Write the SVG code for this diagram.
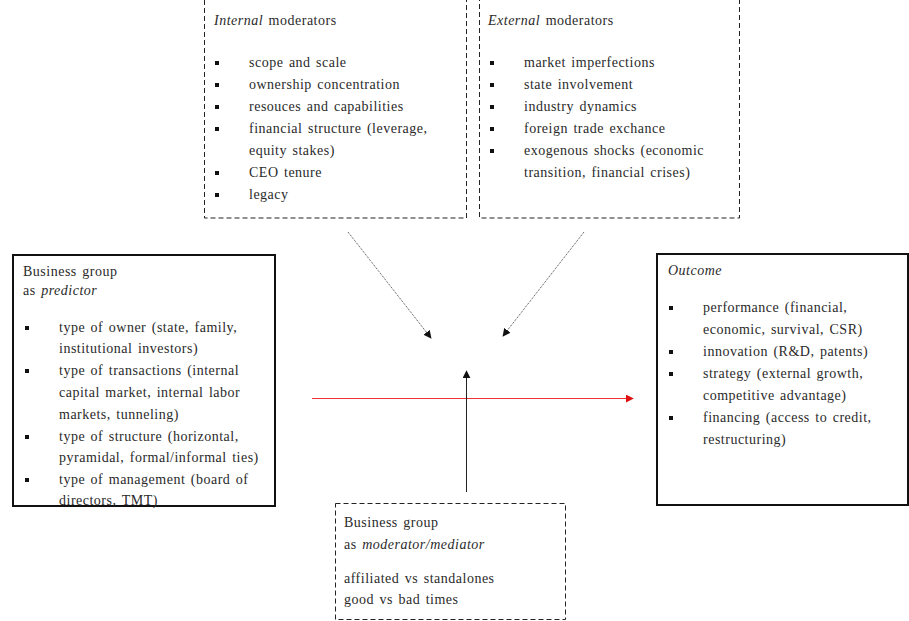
<svg xmlns="http://www.w3.org/2000/svg" width="909" height="621" viewBox="0 0 909 621">
<defs>
<style>
.t{font-family:'Liberation Serif','Times New Roman',serif;font-size:14px;fill:#2a2a2a;letter-spacing:0.5px;word-spacing:1.5px}
.it{font-style:italic}
.dash{fill:#fff;stroke:#222;stroke-width:1;stroke-dasharray:5,3}
.solid{fill:#fff;stroke:#111;stroke-width:2}
.b{fill:#111}
</style>
<marker id="ah" viewBox="0 0 10 10" refX="9" refY="5" markerWidth="8" markerHeight="8" markerUnits="userSpaceOnUse" orient="auto"><path d="M0,0L10,5L0,10z" fill="#111"/></marker>
<marker id="ahr" viewBox="0 0 10 10" refX="9" refY="5" markerWidth="8" markerHeight="8" markerUnits="userSpaceOnUse" orient="auto"><path d="M0,0L10,5L0,10z" fill="#d11"/></marker>
</defs>
<g class="t" font-family="Liberation Serif, Times New Roman, serif">
<g id="internal">
<rect class="dash" x="204.5" y="-5" width="262" height="223"/>
<text x="214" y="25"><tspan class="it">Internal</tspan> moderators</text>
<rect class="b" x="215" y="61" width="4" height="4"/><text x="249" y="67">scope and scale</text>
<rect class="b" x="215" y="83" width="4" height="4"/><text x="249" y="89">ownership concentration</text>
<rect class="b" x="215" y="105" width="4" height="4"/><text x="249" y="111">resouces and capabilities</text>
<rect class="b" x="215" y="127" width="4" height="4"/><text x="249" y="133">financial structure (leverage,</text>
<text x="249" y="155">equity stakes)</text>
<rect class="b" x="215" y="171" width="4" height="4"/><text x="249" y="177">CEO tenure</text>
<rect class="b" x="215" y="193" width="4" height="4"/><text x="249" y="199">legacy</text>
</g>
<g id="external">
<rect class="dash" x="479.5" y="-5" width="260" height="223"/>
<text x="488" y="25"><tspan class="it">External</tspan> moderators</text>
<rect class="b" x="490" y="61" width="4" height="4"/><text x="524" y="67">market imperfections</text>
<rect class="b" x="490" y="83" width="4" height="4"/><text x="524" y="89">state involvement</text>
<rect class="b" x="490" y="105" width="4" height="4"/><text x="524" y="111">industry dynamics</text>
<rect class="b" x="490" y="127" width="4" height="4"/><text x="524" y="133">foreign trade exchance</text>
<rect class="b" x="490" y="149" width="4" height="4"/><text x="524" y="155">exogenous shocks (economic</text>
<text x="524" y="177">transition, financial crises)</text>
</g>
<g id="predictor">
<rect class="solid" x="13" y="255" width="262" height="251"/>
<text x="23" y="276">Business group</text>
<text x="23" y="295">as <tspan class="it">predictor</tspan></text>
<rect class="b" x="25" y="326" width="4" height="4"/><text x="59" y="332">type of owner (state, family,</text>
<text x="59" y="353">institutional  investors)</text>
<rect class="b" x="25" y="369" width="4" height="4"/><text x="59" y="375">type of transactions (internal</text>
<text x="59" y="397">capital market, internal labor</text>
<text x="59" y="419">markets, tunneling)</text>
<rect class="b" x="25" y="435" width="4" height="4"/><text x="59" y="441">type of structure (horizontal,</text>
<text x="59" y="462">pyramidal, formal/informal ties)</text>
<rect class="b" x="25" y="478" width="4" height="4"/><text x="59" y="484">type of management (board of</text>
<text x="59" y="505">directors, TMT)</text>
</g>
<g id="outcome">
<rect class="solid" x="657" y="254" width="251" height="251"/>
<text class="it" x="668" y="275">Outcome</text>
<rect class="b" x="669" y="306" width="4" height="4"/><text x="703" y="312">performance (financial,</text>
<text x="703" y="334">economic, survival, CSR)</text>
<rect class="b" x="669" y="350" width="4" height="4"/><text x="703" y="356">innovation (R&amp;D, patents)</text>
<rect class="b" x="669" y="372" width="4" height="4"/><text x="703" y="378">strategy (external growth,</text>
<text x="703" y="400">competitive advantage)</text>
<rect class="b" x="669" y="416" width="4" height="4"/><text x="703" y="422">financing (access to credit,</text>
<text x="703" y="444">restructuring)</text>
</g>
<g id="mediator">
<rect class="dash" x="335.5" y="503.5" width="230" height="116"/>
<text x="344" y="527">Business group</text>
<text x="344" y="549">as <tspan class="it">moderator/mediator</tspan></text>
<text x="344" y="583">affiliated  vs standalones</text>
<text x="344" y="604">good vs bad times</text>
</g>
</g>
<g id="connectors" fill="none">
<line x1="348" y1="232" x2="431" y2="338" stroke="#444" stroke-width="1" stroke-dasharray="1,1" marker-end="url(#ah)"/>
<line x1="584" y1="232" x2="503" y2="336" stroke="#444" stroke-width="1" stroke-dasharray="1,1" marker-end="url(#ah)"/>
<line x1="312" y1="398.5" x2="633" y2="398.5" stroke="#e33" stroke-width="1" marker-end="url(#ahr)"/>
<line x1="466.5" y1="492" x2="466.5" y2="371" stroke="#222" stroke-width="1" marker-end="url(#ah)"/>
</g>
</svg>
